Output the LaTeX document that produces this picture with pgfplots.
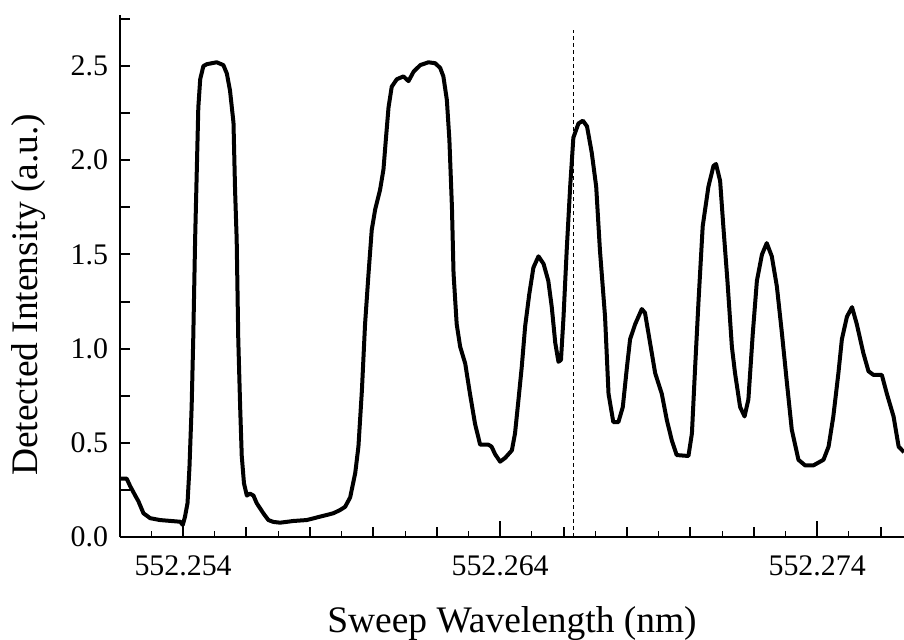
\documentclass[border=0pt]{standalone}
\usepackage{fontspec}
\setmainfont{Liberation Serif}
\usepackage{pgfplots}
\pgfplotsset{compat=1.18}

\begin{document}
\begin{tikzpicture}
  % fixed page frame, in bp: 1 px of the reference = 0.5 bp
  \useasboundingbox (-60bp,-51.5bp) rectangle (392bp,268.5bp);
  \begin{axis}[
      scale only axis,
      width=392bp, height=261bp,
      at={(0,0)}, anchor=south west,
      xmin=552.25201, xmax=552.27674,
      ymin=0, ymax=2.771,
      axis x line=bottom, axis y line=left,
      axis line style={-, line width=1bp},
      tick align=inside,
      % 0.002 nm ticks (medium), 0.001 nm minor ticks
      xtick={552.252,552.254,552.256,552.258,552.260,552.262,552.264,
             552.266,552.268,552.270,552.272,552.274,552.276},
      xticklabels={},
      minor x tick num=1,
      % labelled long ticks
      extra x ticks={552.254,552.264,552.274},
      extra x tick labels={552.254,552.264,552.274},
      extra x tick style={major tick length=8bp},
      ytick={0,0.25,0.5,0.75,1.0,1.25,1.5,1.75,2.0,2.25,2.5,2.75},
      yticklabels={0.0,,0.5,,1.0,,1.5,,2.0,,2.5,},
      major tick length=5bp,
      minor tick length=3bp,
      every major tick/.style={line width=1bp, black},
      every minor tick/.style={line width=0.5bp, black},
      tick label style={font=\fontsize{15}{17}\selectfont},
      xticklabel style={yshift=-6bp},
      yticklabel style={xshift=-2.5bp},
      label style={font=\fontsize{18.8}{22}\selectfont},
      xlabel={Sweep Wavelength (nm)},
      ylabel={Detected Intensity (a.u.)},
      xlabel style={at={(axis description cs:0.5,-0.182)}, anchor=base},
      ylabel style={at={(axis description cs:-0.117,0.464)}, anchor=center},
    ]
    % cursor
    \addplot[black, line width=0.5bp, dash pattern=on 2bp off 1.5bp]
      coordinates {(552.2663,0) (552.2663,2.69)};
    % measured trace
    \addplot[black, line width=2bp, line join=round] table {
      x y
      552.25201 0.31
      552.25222 0.31
      552.25233 0.27
      552.25249 0.22
      552.25259 0.19
      552.25275 0.126
      552.25296 0.10
      552.25327 0.09
      552.25391 0.081
      552.25399 0.064
      552.25406 0.108
      552.25414 0.18
      552.25420 0.37
      552.25427 0.69
      552.25432 1.05
      552.25438 1.58
      552.25443 1.93
      552.25448 2.28
      552.25454 2.43
      552.25464 2.50
      552.25475 2.51
      552.25506 2.52
      552.25527 2.505
      552.25538 2.46
      552.25548 2.37
      552.25559 2.20
      552.25564 1.84
      552.25569 1.58
      552.25574 1.05
      552.25580 0.69
      552.25585 0.43
      552.25592 0.285
      552.25601 0.22
      552.25611 0.23
      552.25622 0.22
      552.25632 0.18
      552.25653 0.126
      552.25669 0.09
      552.25685 0.08
      552.25706 0.076
      552.25748 0.085
      552.25790 0.09
      552.25832 0.108
      552.25874 0.126
      552.25895 0.143
      552.25911 0.16
      552.25927 0.21
      552.25943 0.34
      552.25953 0.48
      552.25964 0.78
      552.25974 1.13
      552.25985 1.40
      552.25995 1.63
      552.26006 1.74
      552.26021 1.84
      552.26032 1.95
      552.26040 2.12
      552.26048 2.28
      552.26058 2.39
      552.26074 2.43
      552.26095 2.445
      552.26111 2.42
      552.26127 2.47
      552.26148 2.505
      552.26174 2.52
      552.26195 2.515
      552.26211 2.49
      552.26221 2.445
      552.26232 2.32
      552.26240 2.11
      552.26248 1.75
      552.26253 1.40
      552.26263 1.13
      552.26274 1.01
      552.26290 0.92
      552.26305 0.76
      552.26321 0.60
      552.26337 0.49
      552.26363 0.49
      552.26373 0.48
      552.26384 0.44
      552.26400 0.40
      552.26416 0.42
      552.26437 0.46
      552.26447 0.55
      552.26458 0.73
      552.26468 0.90
      552.26479 1.12
      552.26492 1.29
      552.26505 1.43
      552.26521 1.49
      552.26537 1.45
      552.26552 1.36
      552.26563 1.22
      552.26574 1.03
      552.26584 0.93
      552.26592 0.94
      552.26600 1.17
      552.26610 1.52
      552.26621 1.86
      552.26631 2.12
      552.26647 2.195
      552.26661 2.21
      552.26674 2.18
      552.26689 2.04
      552.26703 1.86
      552.26715 1.52
      552.26731 1.17
      552.26742 0.76
      552.26757 0.61
      552.26773 0.61
      552.26787 0.69
      552.26800 0.90
      552.26810 1.05
      552.26826 1.13
      552.26847 1.21
      552.26857 1.19
      552.26873 1.03
      552.26889 0.87
      552.26910 0.76
      552.26926 0.62
      552.26942 0.51
      552.26957 0.435
      552.26994 0.43
      552.27005 0.55
      552.27015 0.90
      552.27026 1.26
      552.27039 1.65
      552.27057 1.86
      552.27073 1.97
      552.27081 1.98
      552.27094 1.89
      552.27104 1.65
      552.27117 1.36
      552.27131 1.01
      552.27141 0.87
      552.27157 0.69
      552.27171 0.64
      552.27183 0.73
      552.27197 1.08
      552.27210 1.36
      552.27226 1.50
      552.27241 1.56
      552.27257 1.49
      552.27273 1.33
      552.27289 1.08
      552.27304 0.83
      552.27320 0.57
      552.27341 0.41
      552.27362 0.38
      552.27388 0.38
      552.27420 0.41
      552.27436 0.48
      552.27451 0.64
      552.27467 0.87
      552.27478 1.05
      552.27494 1.17
      552.27510 1.22
      552.27525 1.13
      552.27546 0.975
      552.27562 0.88
      552.27578 0.86
      552.27604 0.86
      552.27620 0.76
      552.27641 0.64
      552.27657 0.48
      552.27674 0.45
    };
  \end{axis}
\end{tikzpicture}
\end{document}
